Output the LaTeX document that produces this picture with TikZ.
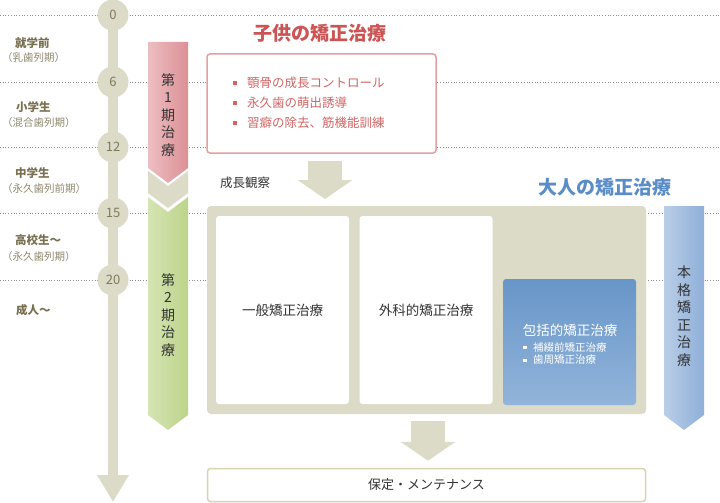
\documentclass[tikz,border=0pt]{standalone}
\usepackage{fontspec}
\setmainfont{Noto Sans CJK JP}
\usetikzlibrary{arrows.meta, positioning, calc}
\definecolor{axisgray}{RGB}{220,219,200}
\definecolor{agetext}{RGB}{128,122,92}
\definecolor{labeltext}{RGB}{120,112,80}
\definecolor{sublabel}{RGB}{140,134,106}
\definecolor{kodomored}{RGB}{204,84,84}
\definecolor{listred}{RGB}{210,100,100}
\definecolor{pinkline}{RGB}{226,160,160}
\definecolor{pinklight}{RGB}{236,190,194}
\definecolor{pinkdark}{RGB}{220,144,150}
\definecolor{greenlight}{RGB}{214,228,180}
\definecolor{greendark}{RGB}{188,212,138}
\definecolor{bluelight}{RGB}{186,206,232}
\definecolor{bluedark}{RGB}{142,175,216}
\definecolor{otonablue}{RGB}{90,140,200}
\definecolor{boxtop}{RGB}{104,150,200}
\definecolor{boxbottom}{RGB}{146,180,218}
\definecolor{hoteiline}{RGB}{216,212,176}
\definecolor{darktext}{RGB}{51,51,51}

\begin{document}
\begin{tikzpicture}[x=1pt, y=-1pt,
  agecircle/.style={circle, fill=axisgray, minimum size=31pt, inner sep=0pt, text=agetext, font=\fontsize{13}{13}\selectfont},
  dotline/.style={dotted, gray!90, line width=0.7pt},
  agelabel/.style={anchor=west, inner sep=0pt, text=labeltext, font=\bfseries\fontsize{11.5}{12}\selectfont},
  agesub/.style={anchor=west, inner sep=0pt, text=sublabel, font=\fontsize{10.5}{11}\selectfont},
  tatetext/.style={align=center, inner sep=0pt, text=darktext, font=\fontsize{14}{17.5}\selectfont},
  listitem/.style={anchor=west, inner sep=0pt, text=listred, font=\fontsize{12.5}{13}\selectfont},
  whitebox/.style={fill=white, rounded corners=3pt, inner sep=0pt, minimum width=133pt, minimum height=188pt, text=darktext, font=\fontsize{13.5}{14}\selectfont},
  blockarrow/.style={axisgray, line width=34pt, -{Triangle[width=54pt,length=19pt]}},
]
  \useasboundingbox (0,0) rectangle (720,503);

  % 点線
  \foreach \y in {15,82,147,213,280}
    \draw[dotline] (0,\y) -- (720,\y);

  % 年齢軸
  \coordinate (axisend) at (113,502);
  \draw[axisgray, line width=10pt, -{Triangle[width=30pt,length=27pt]}] (113,15) -- (axisend);
  \node[agecircle] (age0) at (113,15) {0};
  \node[agecircle] (age6) at (113,82) {6};
  \node[agecircle] (age12) at (113,147) {12};
  \node[agecircle] (age15) at (113,213) {15};
  \node[agecircle] (age20) at (113,280) {20};

  \node[agelabel] (shugaku) at (15,43) {就学前};
  \node[agesub] (shugakusub) at (2,58) {（乳歯列期）};
  \node[agelabel] (shogaku) at (16,107) {小学生};
  \node[agesub] (shogakusub) at (2,123) {（混合歯列期）};
  \node[agelabel] (chugaku) at (15,173) {中学生};
  \node[agesub] (chugakusub) at (2,189) {（永久歯列前期）};
  \node[agelabel] (koko) at (15,240) {高校生〜};
  \node[agesub] (kokosub) at (2,257) {（永久歯列期）};
  \node[agelabel] (seijin) at (16,310) {成人〜};

  % 第1期・第2期
  \shade[left color=pinklight, right color=pinkdark] (148,42) -- (188,42) -- (188,168) -- (168,183) -- (148,168) -- cycle;
  \fill[axisgray] (148,171) -- (168,186) -- (188,171) -- (188,193) -- (168,208) -- (148,193) -- cycle;
  \shade[left color=greenlight, right color=greendark] (148,197) -- (168,212) -- (188,197) -- (188,415) -- (168,430) -- (148,415) -- cycle;
  \node[tatetext] (phase1) at (168,115) {第\\1\\期\\治\\療};
  \node[tatetext] (phase2) at (168,315) {第\\2\\期\\治\\療};

  % 本格矯正治療
  \shade[left color=bluelight, right color=bluedark] (664,206) -- (704,206) -- (704,415) -- (684,430) -- (664,415) -- cycle;
  \node[tatetext] (honkaku) at (684,316) {本\\格\\矯\\正\\治\\療};

  % 子供の矯正治療
  \node[text=kodomored, inner sep=0pt, font=\bfseries\fontsize{19}{19}\selectfont] (kodomotitle) at (320,33) {子供の矯正治療};
  \node[draw=pinkline, line width=1.5pt, fill=white, rounded corners=3pt, minimum width=229pt, minimum height=99pt] (kodomo) at (321.5,103.5) {};
  \node[listitem] (k1) at (247,83) {顎骨の成長コントロール};
  \node[listitem] (k2) at (247,103) {永久歯の萌出誘導};
  \node[listitem] (k3) at (247,123) {習癖の除去、筋機能訓練};
  \foreach \y in {81,101,121}
    \fill[listred] (233,\y) rectangle (237,\y+4);

  \node[anchor=west, inner sep=0pt, text=darktext, font=\fontsize{12.5}{13}\selectfont] (seicho) at (220,183) {成長観察};

  % 大人の矯正治療
  \node[text=otonablue, inner sep=0pt, font=\bfseries\fontsize{19}{19}\selectfont] (otonatitle) at (604.5,187) {大人の矯正治療};
  \node[fill=axisgray, rounded corners=4pt, minimum width=439pt, minimum height=208pt] (otona) at (426.5,310) {};
  \node[whitebox] (ippan) at (282.5,310) {一般矯正治療};
  \node[whitebox] (geka) at (426,310) {外科的矯正治療};
  \node[rounded corners=3pt, top color=boxtop, bottom color=boxbottom, minimum width=133pt, minimum height=126pt] (hokatsu) at (569.5,342) {};
  \node[text=white, inner sep=0pt, font=\fontsize{13.5}{14}\selectfont] (hokatsutitle) at (570,330) {包括的矯正治療};
  \node[anchor=west, text=white, inner sep=0pt, font=\fontsize{10.5}{11}\selectfont] (hotetsu) at (533,347) {補綴前矯正治療};
  \node[anchor=west, text=white, inner sep=0pt, font=\fontsize{10.5}{11}\selectfont] (shishu) at (533,360) {歯周矯正治療};
  \foreach \y in {345.5,358.5}
    \fill[white] (523,\y) rectangle (526.5,\y+3.5);

  % 保定・メンテナンス
  \node[draw=hoteiline, line width=1.5pt, fill=white, rounded corners=3pt, minimum width=438pt, minimum height=33pt, text=darktext, font=\fontsize{13}{13}\selectfont] (hotei) at (426.5,485) {保定・メンテナンス};

  % 矢印
  \coordinate (kansatsu) at (325,199);
  \draw[blockarrow] ([yshift=-7pt]kodomo.south -| kansatsu) -- (kansatsu);
  \draw[blockarrow] ([xshift=1.5pt,yshift=-7pt]otona.south) -- ([xshift=1.5pt,yshift=7pt]hotei.north);
\end{tikzpicture}
\end{document}
